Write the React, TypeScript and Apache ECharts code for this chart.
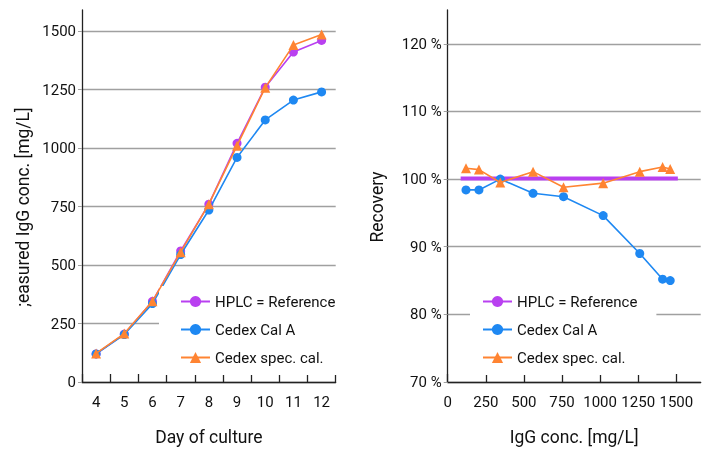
import React, { useEffect, useRef } from "react";
import * as echarts from "echarts";

const DAYS = ["4", "5", "6", "7", "8", "9", "10", "11", "12"];
const HPLC = [120, 205, 345, 560, 760, 1020, 1260, 1410, 1460];
const CAL_A = [120, 203, 335, 545, 735, 960, 1120, 1205, 1240];
const SPEC = [122, 207, 345, 555, 760, 1010, 1258, 1440, 1485];

const REC_CAL_A = [98.4, 98.4, 100.0, 97.9, 97.4, 94.6, 89.0, 85.2, 85.0];
const REC_SPEC = [101.6, 101.4, 99.5, 101.1, 98.8, 99.4, 101.1, 101.8, 101.5];
const REF_LINE_X = [85, 1510];
const REF_LINE_Y = [100.1, 100.1];

const NAMES = ["HPLC = Reference", "Cedex Cal A", "Cedex spec. cal."];
const PURPLE = "#b940f0";
const BLUE = "#1e88f2";
const ORANGE = "#ff8432";
const FONT = "Roboto";

export default function App() {
  const ref = useRef<HTMLDivElement>(null);
  useEffect(() => {
    const chart = echarts.init(ref.current!, null, { renderer: "svg" });
    const axisText = { color: "#111", fontSize: 15, fontFamily: FONT };
    const nameText = { color: "#111", fontSize: 17.5, fontFamily: FONT };
    const gridLine = { show: true, lineStyle: { color: "#a0a0a0", width: 1.3 }, showMaxLine: false };
    const legendText = { color: "#111", fontSize: 15, fontFamily: FONT };
    chart.setOption({
      animation: false,
      textStyle: { fontFamily: FONT },
      grid: [
        { left: 82, top: 10, width: 253.7, height: 373 },
        { left: 447.7, top: 10, width: 253, height: 373.3 },
      ],
      xAxis: [
        {
          gridIndex: 0,
          type: "category",
          data: DAYS,
          boundaryGap: true,
          axisLine: { lineStyle: { color: "#222", width: 1.3 } },
          axisTick: { show: true, inside: true, length: 8, lineStyle: { color: "#222", width: 1.3 } },
          axisLabel: { ...axisText, margin: 12 },
          name: "Day of culture",
          nameLocation: "middle",
          nameGap: 46,
          nameTextStyle: nameText,
        },
        {
          gridIndex: 1,
          type: "value",
          min: 0,
          max: 1660,
          interval: 250,
          axisLine: { lineStyle: { color: "#222", width: 1.3 } },
          axisTick: { show: true, inside: true, length: 8, lineStyle: { color: "#222", width: 1.3 } },
          axisLabel: { ...axisText, margin: 12, showMaxLabel: false, formatter: (v: number) => String(v) },
          splitLine: { show: false },
          name: "IgG conc. [mg/L]",
          nameLocation: "middle",
          nameGap: 46,
          nameTextStyle: nameText,
        },
      ],
      yAxis: [
        {
          gridIndex: 0,
          type: "value",
          min: 0,
          max: 1590,
          interval: 250,
          axisLine: { show: true, lineStyle: { color: "#222", width: 1.3 } },
          axisTick: { show: true, length: 4, lineStyle: { color: "#a0a0a0" } },
          axisLabel: { ...axisText, margin: 6, showMaxLabel: false, formatter: (v: number) => String(v) },
          splitLine: gridLine,
          name: ";easured IgG conc. [mg/L]",
          nameLocation: "middle",
          nameGap: 50,
          nameRotate: 90,
          nameTextStyle: { ...nameText, padding: [0, 22, 0, 0] },
        },
        {
          gridIndex: 1,
          type: "value",
          min: 70,
          max: 125,
          interval: 10,
          axisLine: { show: true, lineStyle: { color: "#222", width: 1.3 } },
          axisTick: { show: true, length: 4, lineStyle: { color: "#a0a0a0" } },
          axisLabel: { ...axisText, margin: 6, showMaxLabel: false, formatter: (v: number) => v + " %" },
          splitLine: gridLine,
          name: "Recovery",
          nameLocation: "middle",
          nameGap: 62,
          nameRotate: 90,
          nameTextStyle: { ...nameText, padding: [0, 22, 0, 0] },
        },
      ],
      legend: [
        {
          orient: "vertical",
          left: 159,
          top: 286,
          padding: [8, 4, 10, 21],
          backgroundColor: "#fff",
          itemWidth: 29,
          itemHeight: 14,
          itemGap: 13,
          textStyle: legendText,
          data: [NAMES[0] + " ", NAMES[1] + " ", NAMES[2] + " "],
          formatter: (n: string) => n.trim(),
        },
        {
          orient: "vertical",
          left: 470,
          top: 286,
          padding: [8, 19, 10, 12],
          backgroundColor: "#fff",
          itemWidth: 29,
          itemHeight: 14,
          itemGap: 13,
          textStyle: legendText,
          data: [NAMES[0], NAMES[1], NAMES[2]],
        },
      ],
      series: [
        {
          name: NAMES[0] + " ",
          type: "line",
          xAxisIndex: 0,
          yAxisIndex: 0,
          data: HPLC,
          symbol: "circle",
          symbolSize: 9,
          itemStyle: { color: PURPLE },
          lineStyle: { color: PURPLE, width: 1.6 },
          z: 2,
        },
        {
          name: NAMES[1] + " ",
          type: "line",
          xAxisIndex: 0,
          yAxisIndex: 0,
          data: CAL_A,
          symbol: "circle",
          symbolSize: 9,
          itemStyle: { color: BLUE },
          lineStyle: { color: BLUE, width: 1.6 },
          z: 3,
        },
        {
          name: NAMES[2] + " ",
          type: "line",
          xAxisIndex: 0,
          yAxisIndex: 0,
          data: SPEC,
          symbol: "triangle",
          symbolSize: 10,
          itemStyle: { color: ORANGE },
          lineStyle: { color: ORANGE, width: 1.6 },
          z: 4,
        },
        {
          name: NAMES[0],
          type: "line",
          xAxisIndex: 1,
          yAxisIndex: 1,
          data: REF_LINE_X.map((x, i) => [x, REF_LINE_Y[i]]),
          symbol: "none",
          itemStyle: { color: PURPLE },
          lineStyle: { color: PURPLE, width: 4 },
          z: 2,
        },
        {
          name: NAMES[1],
          type: "line",
          xAxisIndex: 1,
          yAxisIndex: 1,
          data: HPLC.map((x, i) => [x, REC_CAL_A[i]]),
          symbol: "circle",
          symbolSize: 9,
          itemStyle: { color: BLUE },
          lineStyle: { color: BLUE, width: 1.6 },
          z: 3,
        },
        {
          name: NAMES[2],
          type: "line",
          xAxisIndex: 1,
          yAxisIndex: 1,
          data: HPLC.map((x, i) => [x, REC_SPEC[i]]),
          symbol: "triangle",
          symbolSize: 10,
          itemStyle: { color: ORANGE },
          lineStyle: { color: ORANGE, width: 1.6 },
          z: 4,
        },
      ],
    });
    return () => chart.dispose();
  }, []);
  return <div ref={ref} style={{ position: "fixed", left: 0, top: 0, width: 705, height: 451 }} />;
}
